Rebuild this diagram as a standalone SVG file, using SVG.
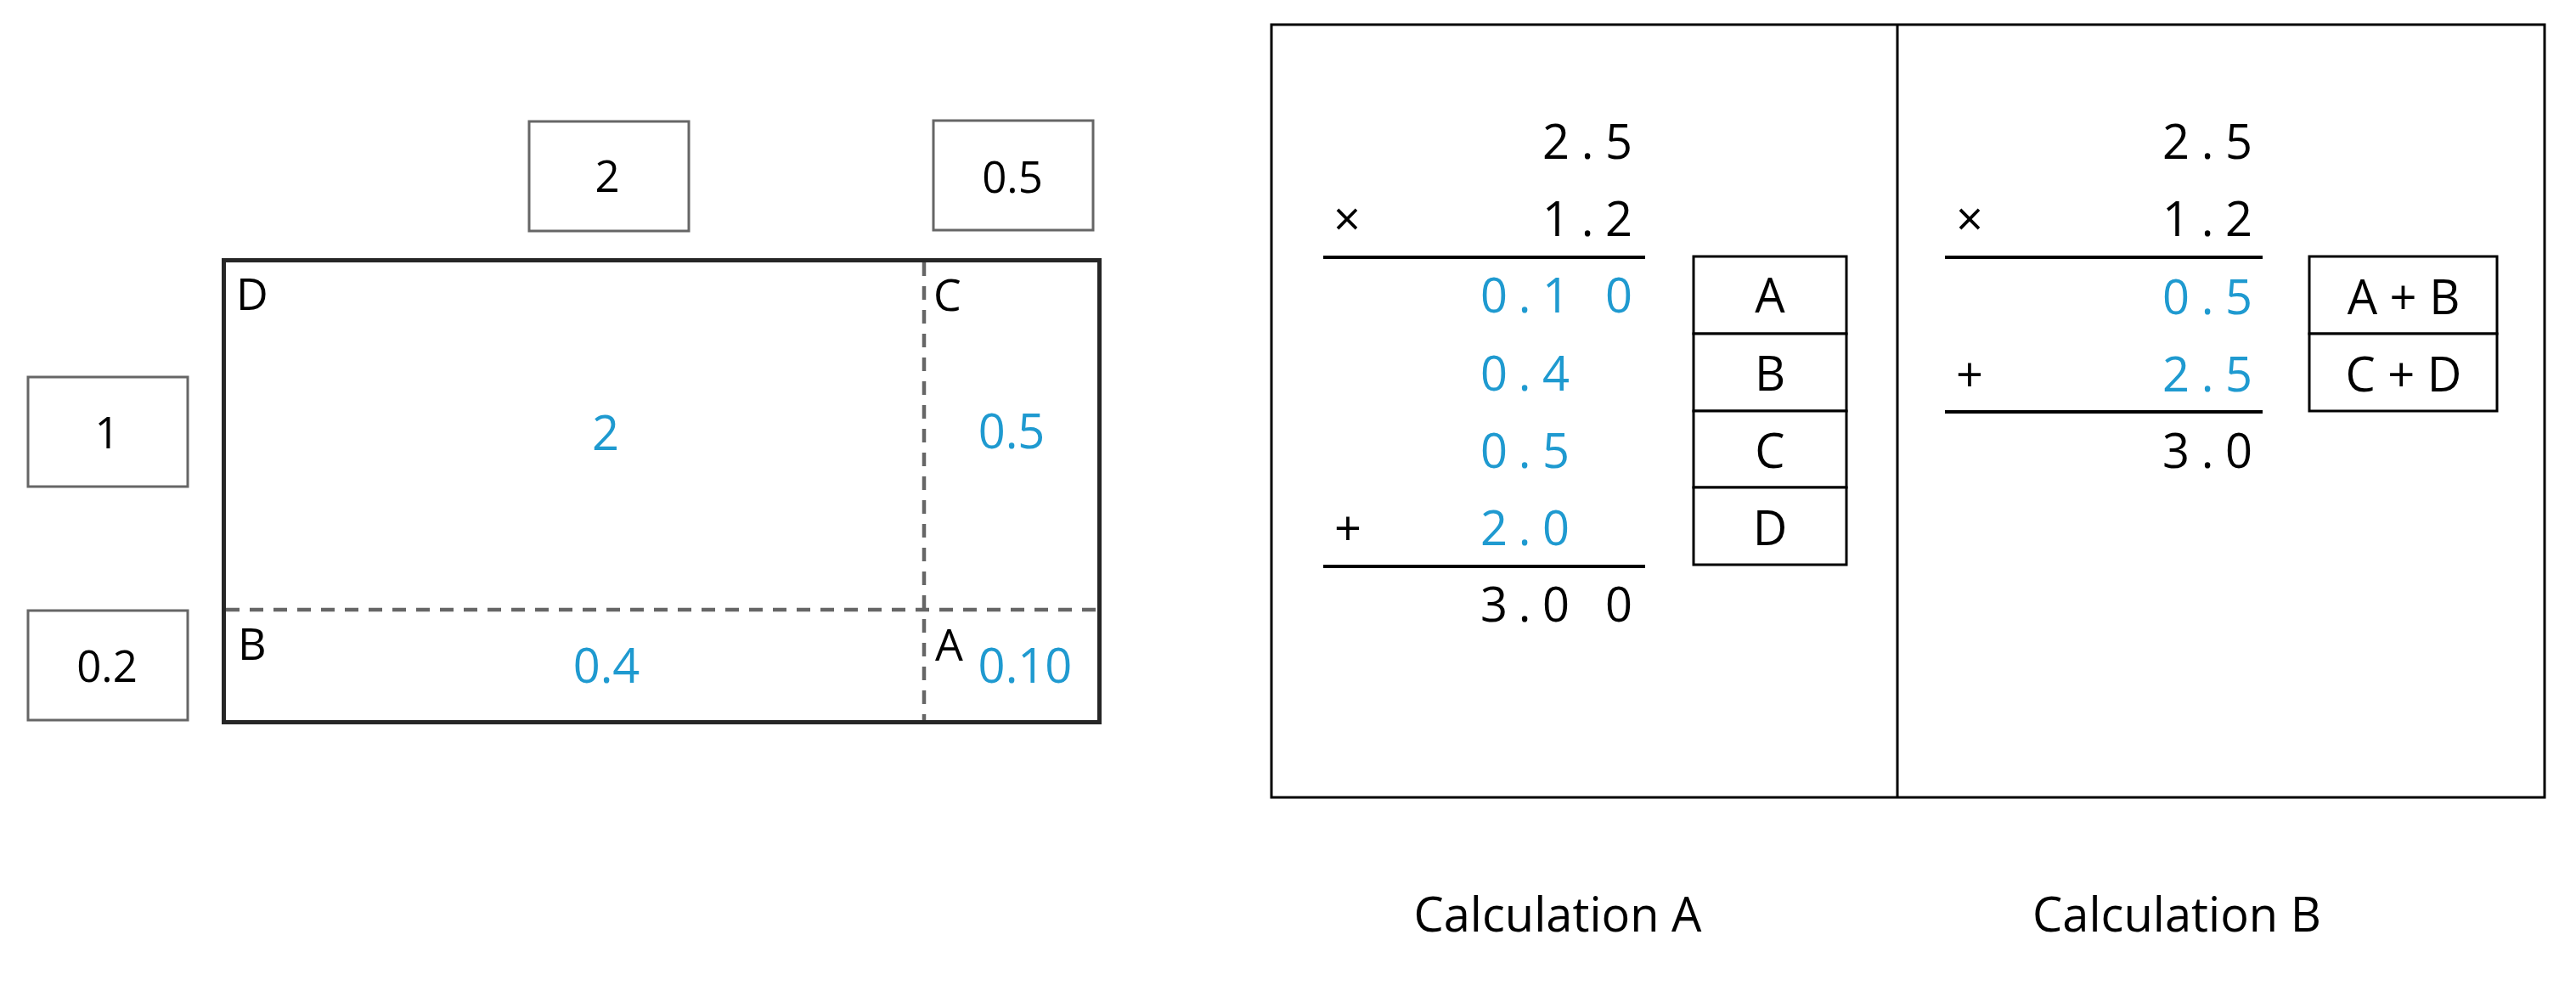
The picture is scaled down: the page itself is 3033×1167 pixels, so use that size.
<svg xmlns="http://www.w3.org/2000/svg" width="3033" height="1167" viewBox="0 0 3033 1167">
<style>
text{font-family:"Open Sans","Noto Sans","DejaVu Sans",sans-serif;}
.lbl{font-size:51px;fill:#000;text-anchor:middle;}
.reg{font-size:52px;fill:#000;}
.blue{font-size:56px;fill:#1F9AD0;text-anchor:middle;}
.d{font-size:56px;text-anchor:middle;fill:#000;}
.db{font-size:56px;text-anchor:middle;fill:#1F9AD0;}
.gbox{fill:#fff;stroke:#666;stroke-width:3;}
.bbox{fill:#fff;stroke:#000;stroke-width:3;}
.dash{stroke:#666;stroke-width:4.5;stroke-dasharray:16 12;fill:none;}
.rule{stroke:#000;stroke-width:4;}
.cap{font-size:56px;fill:#000;text-anchor:middle;}
</style>
<rect width="3033" height="1167" fill="#fff"/>

<g id="area-model">
  <g id="factor-2"><rect class="gbox" x="623" y="143" width="188" height="129"/><text class="lbl" x="715" y="226">2</text></g>
  <g id="factor-0.5"><rect class="gbox" x="1099" y="142" width="188" height="129"/><text class="lbl" x="1192" y="227">0.5</text></g>
  <g id="factor-1"><rect class="gbox" x="33" y="444" width="188" height="129"/><text class="lbl" x="126" y="528">1</text></g>
  <g id="factor-0.2"><rect class="gbox" x="33" y="719" width="188" height="129"/><text class="lbl" x="126" y="803">0.2</text></g>
  <g id="rect-main">
    <line class="dash" x1="1088" y1="309" x2="1088" y2="848"/>
    <line class="dash" x1="266" y1="718" x2="1292" y2="718"/>
    <rect x="263.5" y="306.5" width="1031" height="544" fill="none" stroke="#262626" stroke-width="5"/>
  </g>
  <g id="region-D"><text class="reg" x="278" y="365">D</text><text class="blue" x="713" y="530">2</text></g>
  <g id="region-C"><text class="reg" x="1099" y="366">C</text><text class="blue" x="1191" y="528">0.5</text></g>
  <g id="region-B"><text class="reg" x="280" y="777">B</text><text class="blue" x="714" y="804">0.4</text></g>
  <g id="region-A"><text class="reg" x="1101" y="778">A</text><text class="blue" x="1207" y="804">0.10</text></g>
</g>

<g id="calc-frame">
  <rect x="1497" y="29" width="1499" height="910" fill="none" stroke="#000" stroke-width="3"/>
  <line x1="2234" y1="29" x2="2234" y2="939" stroke="#000" stroke-width="3"/>
</g>

<g id="calculation-A">
  <text class="d" x="1832" y="187">2</text><text class="d" x="1869" y="187">.</text><text class="d" x="1906" y="187">5</text>
  <text class="d" x="1586" y="278">×</text>
  <text class="d" x="1832" y="278">1</text><text class="d" x="1869" y="278">.</text><text class="d" x="1906" y="278">2</text>
  <line class="rule" x1="1558" y1="303" x2="1937" y2="303"/>
  <text class="db" x="1759" y="368">0</text><text class="db" x="1795" y="368">.</text><text class="db" x="1832" y="368">1</text><text class="db" x="1906" y="368">0</text>
  <text class="db" x="1759" y="460">0</text><text class="db" x="1795" y="460">.</text><text class="db" x="1832" y="460">4</text>
  <text class="db" x="1759" y="551">0</text><text class="db" x="1795" y="551">.</text><text class="db" x="1832" y="551">5</text>
  <text class="d" x="1587" y="642">+</text>
  <text class="db" x="1759" y="642">2</text><text class="db" x="1795" y="642">.</text><text class="db" x="1832" y="642">0</text>
  <line class="rule" x1="1558" y1="667" x2="1937" y2="667"/>
  <text class="d" x="1759" y="732">3</text><text class="d" x="1795" y="732">.</text><text class="d" x="1832" y="732">0</text><text class="d" x="1906" y="732">0</text>
</g>

<g id="table-A">
  <rect class="bbox" x="1994" y="302" width="180" height="91"/>
  <rect class="bbox" x="1994" y="393" width="180" height="91"/>
  <rect class="bbox" x="1994" y="484" width="180" height="90"/>
  <rect class="bbox" x="1994" y="574" width="180" height="91"/>
  <text class="d" x="2084" y="368">A</text>
  <text class="d" x="2084" y="460">B</text>
  <text class="d" x="2084" y="551">C</text>
  <text class="d" x="2084" y="642">D</text>
</g>

<g id="calculation-B">
  <text class="d" x="2562" y="187">2</text><text class="d" x="2599" y="187">.</text><text class="d" x="2636" y="187">5</text>
  <text class="d" x="2319" y="278">×</text>
  <text class="d" x="2562" y="278">1</text><text class="d" x="2599" y="278">.</text><text class="d" x="2636" y="278">2</text>
  <line class="rule" x1="2290" y1="303" x2="2664" y2="303"/>
  <text class="db" x="2562" y="370">0</text><text class="db" x="2599" y="370">.</text><text class="db" x="2636" y="370">5</text>
  <text class="d" x="2319" y="461">+</text>
  <text class="db" x="2562" y="461">2</text><text class="db" x="2599" y="461">.</text><text class="db" x="2636" y="461">5</text>
  <line class="rule" x1="2290" y1="485" x2="2664" y2="485"/>
  <text class="d" x="2562" y="551">3</text><text class="d" x="2599" y="551">.</text><text class="d" x="2636" y="551">0</text>
</g>

<g id="table-B">
  <rect class="bbox" x="2719" y="302" width="221" height="91"/>
  <rect class="bbox" x="2719" y="393" width="221" height="91"/>
  <text class="d" x="2830" y="370">A + B</text>
  <text class="d" x="2830" y="461">C + D</text>
</g>

<g id="captions">
  <text class="cap" x="1834" y="1097">Calculation A</text>
  <text class="cap" x="2563" y="1097">Calculation B</text>
</g>
</svg>
